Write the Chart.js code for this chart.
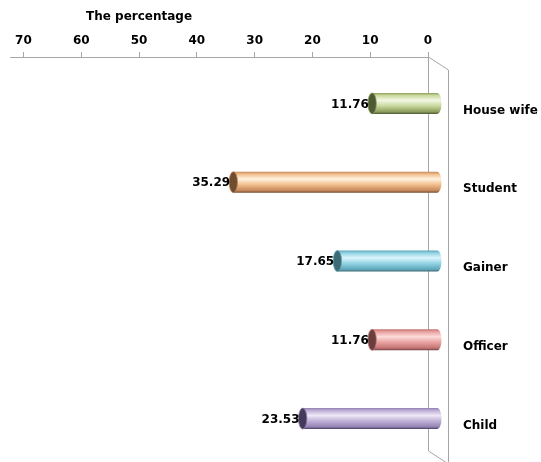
<!DOCTYPE html>
<html>
<head>
<meta charset="utf-8">
<script src="https://cdn.jsdelivr.net/npm/chart.js@4/dist/chart.umd.min.js"></script>
<style>
  html, body { margin: 0; padding: 0; background: #fff; }
  canvas { display: block; }
</style>
</head>
<body>
<canvas id="occupationChart" width="541" height="462"></canvas>
<script>
// Datos del grafico
const categories = ['House wife', 'Student', 'Gainer', 'Officer', 'Child'];
const percentages = [11.76, 35.29, 17.65, 11.76, 23.53];
const axisTitle = 'The percentage';
const axisMax = 70;
const axisStep = 10;

// Colores de cada cilindro: borde, brillo, medio, tapa
const palette = [
    { edge: '#8c9c5c', light: '#f3f7e4', mid: '#c8d99e', cap: '#4e5a33' },
    { edge: '#c4875a', light: '#fff2e0', mid: '#f2be8b', cap: '#6e4c30' },
    { edge: '#5ea7b9', light: '#dcf5fb', mid: '#92d3e4', cap: '#3f6b76' },
    { edge: '#c27373', light: '#fcdcdb', mid: '#e8a2a0', cap: '#6b3e3e' },
    { edge: '#9182b2', light: '#eee8f6', mid: '#bfafd7', cap: '#463a5a' }
];

const FONT = 'bold 12px "DejaVu Sans", Verdana, sans-serif';
const DEPTH_X = 20;   // profundidad del "3D"
const DEPTH_Y = 13;
const BAR_SHIFT_Y = 7; // barras a media profundidad

// Paredes 3D y titulo del eje
const wallsPlugin = {
    id: 'walls',
    beforeDatasetsDraw(chart) {
        const { ctx, chartArea } = chart;
        const x0 = chart.scales.x.getPixelForValue(0);
        ctx.save();
        ctx.strokeStyle = '#a6a6a6';
        ctx.lineWidth = 1;
        ctx.beginPath();
        ctx.moveTo(x0 + 0.5, chartArea.top);
        ctx.lineTo(x0 + 0.5, chartArea.bottom);
        ctx.lineTo(x0 + 0.5 + DEPTH_X, chartArea.bottom + DEPTH_Y);
        ctx.moveTo(x0 + 0.5, chartArea.top);
        ctx.lineTo(x0 + 0.5 + DEPTH_X, chartArea.top + DEPTH_Y);
        ctx.lineTo(x0 + 0.5 + DEPTH_X, chartArea.bottom + DEPTH_Y);
        ctx.stroke();

        ctx.fillStyle = '#000';
        ctx.font = FONT;
        ctx.textAlign = 'center';
        ctx.textBaseline = 'middle';
        ctx.fillText(axisTitle, chart.scales.x.getPixelForValue(50), 17);
        ctx.restore();
    }
};

// Cilindros, valores y categorias
const cylinderPlugin = {
    id: 'cylinders',
    afterDatasetsDraw(chart) {
        const { ctx } = chart;
        const meta = chart.getDatasetMeta(0);
        ctx.save();
        meta.data.forEach((bar, i) => {
            const { x, y, base, height } = bar.getProps(['x', 'y', 'base', 'height'], true);
            const c = palette[i];
            const cy = y + BAR_SHIFT_Y;
            const h = height;
            const top = cy - h / 2;
            const left = Math.min(x, base);
            const right = Math.max(x, base);
            const rx = h * 0.2;

            const g = ctx.createLinearGradient(0, top, 0, top + h);
            g.addColorStop(0, c.edge);
            g.addColorStop(0.12, c.mid);
            g.addColorStop(0.35, c.light);
            g.addColorStop(0.62, c.mid);
            g.addColorStop(0.9, c.edge);
            g.addColorStop(1, c.cap);

            ctx.beginPath();
            ctx.moveTo(left, top);
            ctx.lineTo(right - rx, top);
            ctx.ellipse(right - rx, cy, rx, h / 2, 0, -Math.PI / 2, Math.PI / 2);
            ctx.lineTo(left, top + h);
            ctx.closePath();
            ctx.fillStyle = g;
            ctx.fill();

            ctx.beginPath();
            ctx.ellipse(left, cy, rx, h / 2, 0, 0, Math.PI * 2);
            ctx.fillStyle = c.cap;
            ctx.fill();
            ctx.strokeStyle = c.edge;
            ctx.lineWidth = 0.8;
            ctx.stroke();

            // valor
            ctx.fillStyle = '#000';
            ctx.font = FONT;
            ctx.textAlign = 'right';
            ctx.textBaseline = 'middle';
            ctx.fillText(percentages[i].toFixed(2), left - rx + 1, cy + 1);

            // categoria
            ctx.textAlign = 'left';
            ctx.fillText(categories[i], 463, y + DEPTH_Y + 1);
        });
        ctx.restore();
    }
};

const ctx = document.getElementById('occupationChart').getContext('2d');

new Chart(ctx, {
    type: 'bar',
    data: {
        labels: categories,
        datasets: [{
            data: percentages.map(v => [0, v]),
            xAxisID: 'x2',
            backgroundColor: 'rgba(0,0,0,0)',
            borderWidth: 0,
            barThickness: 21
        }]
    },
    options: {
        indexAxis: 'y',
        responsive: false,
        animation: false,
        layout: { padding: { left: 10, right: 113, top: 0, bottom: 11 } },
        plugins: {
            legend: { display: false },
            tooltip: { enabled: false }
        },
        scales: {
            x: {
                position: 'top',
                reverse: true,
                min: 0,
                max: 72.33,
                afterFit: (scale) => { scale.height = 57; },
                ticks: {
                    stepSize: axisStep,
                    includeBounds: false,
                    color: '#000',
                    padding: 4,
                    font: { family: '"DejaVu Sans", Verdana, sans-serif', size: 12, weight: 'bold' },
                    callback: (v) => (v <= axisMax ? v : '')
                },
                grid: {
                    drawOnChartArea: false,
                    tickLength: 5,
                    color: '#a6a6a6'
                },
                border: { display: true, color: '#a6a6a6' }
            },
            x2: {
                display: false,
                reverse: true,
                min: 2.29,
                max: 73.14
            },
            y: {
                display: false
            }
        }
    },
    plugins: [wallsPlugin, cylinderPlugin]
});
</script>
</body>
</html>
